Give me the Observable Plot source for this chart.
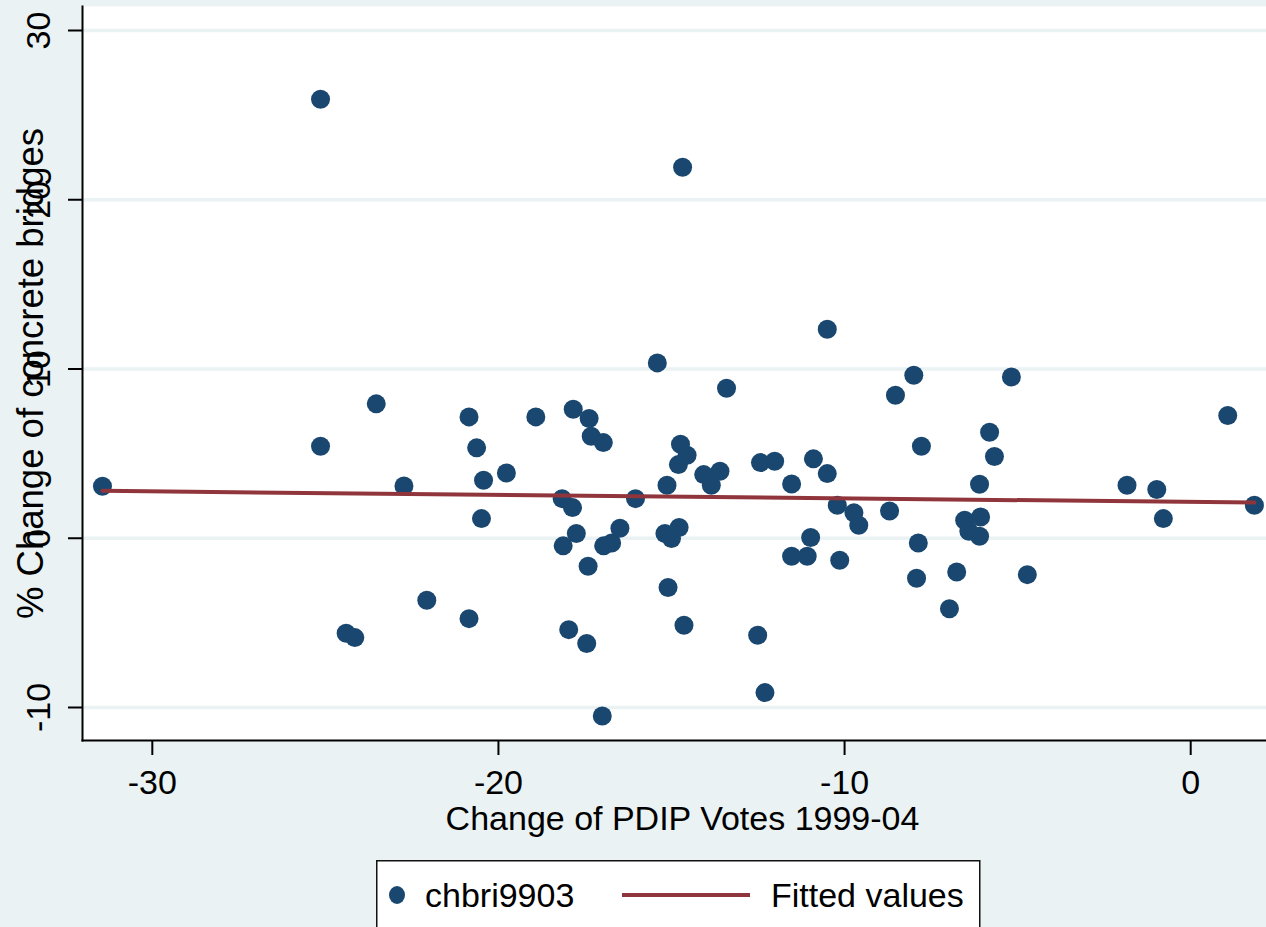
<!DOCTYPE html>
<html><head><meta charset="utf-8">
<script src="https://cdn.jsdelivr.net/npm/d3@7"></script>
<script src="https://cdn.jsdelivr.net/npm/@observablehq/plot@0.6"></script>
<style>
html,body{margin:0;padding:0;background:#eaf2f3;overflow:hidden;}
#wrap{position:relative;width:1266px;height:927px;font-family:"Liberation Sans",Arial,Helvetica,sans-serif;}
#legend{position:absolute;left:376px;top:860px;}
svg{display:block;}
</style></head>
<body><div id="wrap"></div>
<script>
// Change of PDIP votes 1999-04 (x) and % change of concrete bridges (y)
const xVotes = [-31.44,-25.14,-25.14,-23.53,-22.73,-22.07,-20.85,-20.63,-20.43,-20.49,-19.77,-20.85,-24.40,-24.15,
  -18.92,-17.84,-17.38,-17.32,-16.97,-15.41,-13.41,-10.50,-8.53,-14.74,-14.55,-14.80,-15.13,-14.07,-13.60,-13.85,
  -12.43,-12.02,-10.90,-10.50,-11.53,-18.16,-17.86,-16.04,-10.21,-9.73,-9.59,-8.70,-17.75,-18.13,-17.41,-16.96,
  -16.73,-16.49,-15.19,-15.00,-14.78,-15.10,-17.97,-17.45,-14.64,-12.51,-12.30,-17.00,-11.53,-11.08,-10.98,-10.14,
  -8.00,-5.18,1.07,-7.78,-5.81,-5.67,-6.10,-6.53,-6.07,-6.41,-6.10,-7.87,-7.92,-6.76,-4.72,-6.97,-1.84,-0.98,-0.79,
  1.84,-14.68];
const yBridges = [3.07,25.94,5.44,7.94,3.09,-3.66,7.17,5.34,3.43,1.16,3.86,-4.75,-5.61,-5.87,
  7.17,7.62,7.07,6.03,5.65,10.36,8.86,12.35,8.45,5.55,4.90,4.35,3.13,3.76,3.96,3.13,
  4.47,4.55,4.69,3.82,3.21,2.34,1.81,2.34,1.95,1.50,0.77,1.61,0.28,-0.45,-1.65,-0.45,
  -0.28,0.59,0.28,-0.02,0.63,-2.91,-5.40,-6.22,-5.14,-5.73,-9.12,-10.50,-1.06,-1.06,0.04,-1.30,
  9.63,9.53,7.25,5.44,6.26,4.83,3.19,1.06,1.26,0.41,0.12,-0.28,-2.36,-1.99,-2.15,-4.17,3.13,2.88,1.16,
  1.95,21.92];
// Fitted values (end points)
const fitX = [-31.44, 1.84];
const fitY = [2.80, 2.11];
const xTicks = [-30, -20, -10, 0];
const yTicks = [-10, 0, 10, 20, 30];
const xTitle = "Change of PDIP Votes 1999-04";
const yTitle = "% Change of concrete bridges";
const seriesNames = ["chbri9903", "Fitted values"];

const navy = "#1a476f", maroon = "#90353b", bg = "#eaf2f3";
const font = '"Liberation Sans", Arial, Helvetica, sans-serif';
const fmt = (d) => String(d);

const plot = Plot.plot({
  width: 1266, height: 850,
  marginLeft: 82, marginRight: 0, marginTop: 6, marginBottom: 110,
  style: {background: "transparent", fontFamily: font, color: "#000"},
  x: {domain: [-32.017, 2.19], axis: null},
  y: {domain: [-11.95, 31.418], axis: null},
  marks: [
    Plot.frame({fill: "white", stroke: "none"}),
    Plot.gridY(yTicks, {stroke: bg, strokeOpacity: 1, strokeWidth: 3.5}),
    Plot.dot(xVotes, {x: (d) => d, y: (d, i) => yBridges[i], r: 9.5, fill: navy, stroke: "none"}),
    Plot.line(fitX, {x: (d) => d, y: (d, i) => fitY[i], stroke: maroon, strokeWidth: 4}),
    Plot.axisX(xTicks, {tickSize: 15, tickPadding: 14, fontSize: 34, strokeWidth: 2, tickFormat: fmt, label: null}),
    Plot.axisY(yTicks, {tickSize: 14, tickFormat: () => "", strokeWidth: 2, label: null}),
    Plot.text(yTicks, {y: (d) => d, text: fmt, frameAnchor: "left", textAnchor: "middle", dx: -43, rotate: -90, fontSize: 34, fill: "#000"}),
    Plot.text([yTitle], {text: (d) => d, frameAnchor: "left", textAnchor: "middle", dx: -51, rotate: -90, fontSize: 36.5, fill: "#000"}),
    Plot.text([xTitle], {text: (d) => d, frameAnchor: "bottom", dy: 89, dx: 8, fontSize: 34, fill: "#000"}),
    Plot.frame({anchor: "left", stroke: "#000", strokeWidth: 2}),
    Plot.frame({anchor: "bottom", stroke: "#000", strokeWidth: 2})
  ]
});
document.getElementById("wrap").appendChild(plot);

// Legend below the plot
const leg = d3.select("#wrap").append("svg").attr("id", "legend")
  .attr("width", 605).attr("height", 70);
leg.append("rect").attr("x", 0.75).attr("y", 0.75).attr("width", 603).attr("height", 120)
  .attr("fill", "white").attr("stroke", "#111").attr("stroke-width", 1.5);
leg.append("ellipse").attr("cx", 21).attr("cy", 35).attr("rx", 8).attr("ry", 9).attr("fill", navy);
leg.append("text").attr("x", 49).attr("y", 47).attr("font-family", font).attr("font-size", 34).text(seriesNames[0]);
leg.append("line").attr("x1", 246).attr("x2", 374).attr("y1", 35).attr("y2", 35)
  .attr("stroke", maroon).attr("stroke-width", 4);
leg.append("text").attr("x", 395).attr("y", 47).attr("font-family", font).attr("font-size", 34).text(seriesNames[1]);
</script>
</body></html>
